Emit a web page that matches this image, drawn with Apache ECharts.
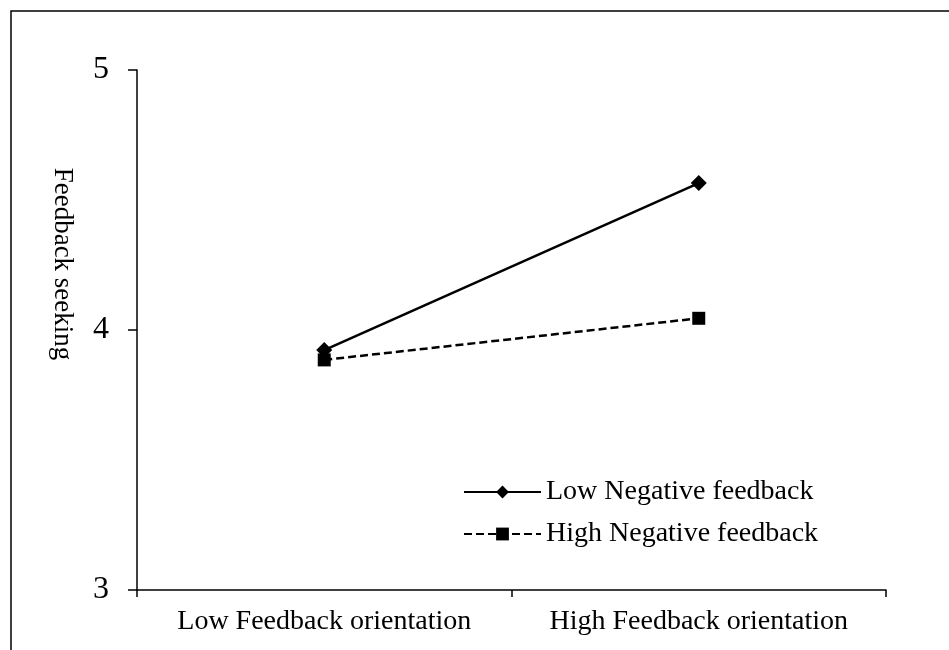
<!DOCTYPE html>
<html><head><meta charset="utf-8">
<script src="https://cdn.jsdelivr.net/npm/echarts@6/dist/echarts.min.js"></script>
<style>html,body{margin:0;padding:0;background:#fff}#c{width:949px;height:650px}</style>
</head><body><div id="c"></div>
<script>
var categories = ['Low Feedback orientation', 'High Feedback orientation'];
var seriesNames = ['Low Negative feedback', 'High Negative feedback'];
var lowNegative = [3.923, 4.565];
var highNegative = [3.885, 4.045];
var yTicks = [3, 4, 5];
var yTitle = 'Feedback seeking';
var FONT = '"Liberation Serif","Times New Roman",serif';

var chart = echarts.init(document.getElementById('c'));
chart.setOption({
  animation: false,
  backgroundColor: '#fff',
  graphic: [
    {type: 'rect', shape: {x: 11, y: 11, width: 1000, height: 700}, style: {fill: 'none', stroke: '#000', lineWidth: 1.5}, silent: true},
    {type: 'text', x: 62, y: 264, rotation: -Math.PI / 2, silent: true,
     style: {text: yTitle, fill: '#000', font: '27px ' + FONT, textAlign: 'center', textVerticalAlign: 'middle'}}
  ],
  grid: {left: 137, right: 63, top: 70, bottom: 60},
  xAxis: {
    type: 'category', data: categories, boundaryGap: true,
    axisLine: {lineStyle: {color: '#000', width: 1.5}},
    axisTick: {show: true, interval: 0, length: 7, lineStyle: {color: '#000', width: 1.5}},
    axisLabel: {interval: 0, hideOverlap: false, color: '#000', fontFamily: FONT, fontSize: 28, margin: 18}
  },
  yAxis: {
    type: 'value', min: yTicks[0], max: yTicks[yTicks.length - 1], interval: 1,
    axisLine: {show: true, lineStyle: {color: '#000', width: 1.5}},
    axisTick: {show: true, length: 9, lineStyle: {color: '#000', width: 1.5}},
    splitLine: {show: false},
    axisLabel: {color: '#000', fontFamily: FONT, fontSize: 32, margin: 28}
  },
  legend: {
    orient: 'vertical', left: 458, top: 472,
    itemWidth: 77, itemHeight: 16, itemGap: 12,
    textStyle: {color: '#000', fontFamily: FONT, fontSize: 28, lineHeight: 30},
    data: seriesNames
  },
  series: [
    {name: seriesNames[0], type: 'line', data: lowNegative, symbol: 'diamond', symbolSize: 16,
     itemStyle: {color: '#000'}, lineStyle: {color: '#000', width: 2.5, type: 'solid'}},
    {name: seriesNames[1], type: 'line', data: highNegative, symbol: 'rect', symbolSize: 13,
     itemStyle: {color: '#000'}, lineStyle: {color: '#000', width: 2.5, type: [8, 4]}}
  ]
});
</script></body></html>
